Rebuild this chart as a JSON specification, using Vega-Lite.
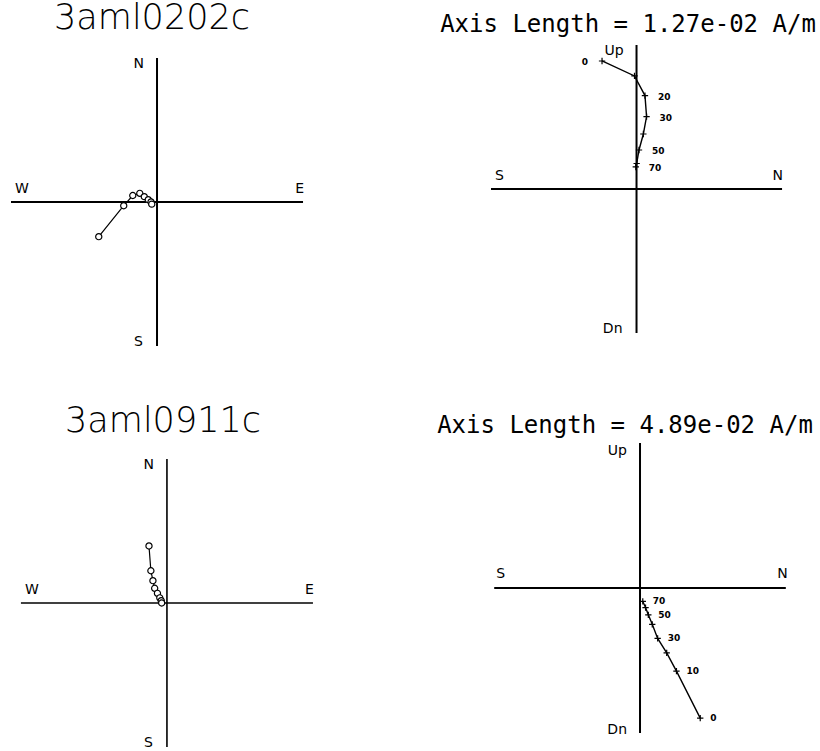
{
  "$schema": "https://vega.github.io/schema/vega-lite/v6.json",
  "background": "white",
  "padding": {"left": 10, "top": 1, "right": 0, "bottom": 0},
  "config": {"view": {"stroke": null}, "font": "DejaVu Sans"},
  "bounds": "flush",
  "columns": 2,
  "spacing": {"row": 94, "column": 176},
  "datasets": {
    "eqAxes": [
      {"axis": "NS", "east": 0, "east2": 0, "north": -1, "north2": 1},
      {"axis": "EW", "east": -1, "east2": 1, "north": 0, "north2": 0}
    ],
    "eqLabels": [
      {"label": "N", "end": "top", "east": 0, "north": 1},
      {"label": "S", "end": "bottom", "east": 0, "north": -1},
      {"label": "W", "end": "left", "east": -1, "north": 0},
      {"label": "E", "end": "right", "east": 1, "north": 0}
    ],
    "zijAxes": [
      {"axis": "UpDn", "north": 0, "north2": 0, "up": -1, "up2": 1},
      {"axis": "SN", "north": -1, "north2": 1, "up": 0, "up2": 0}
    ],
    "zijLabels": [
      {"label": "Up", "end": "top", "north": 0, "up": 1},
      {"label": "Dn", "end": "bottom", "north": 0, "up": -1},
      {"label": "S", "end": "left", "north": -1, "up": 0},
      {"label": "N", "end": "right", "north": 1, "up": 0}
    ],
    "eq0202": [
      {"step": 0, "east": -0.399, "north": -0.241},
      {"step": 10, "east": -0.228, "north": -0.026},
      {"step": 20, "east": -0.166, "north": 0.045},
      {"step": 30, "east": -0.118, "north": 0.060},
      {"step": 40, "east": -0.087, "north": 0.037},
      {"step": 50, "east": -0.060, "north": 0.016},
      {"step": 60, "east": -0.041, "north": 0.000},
      {"step": 70, "east": -0.036, "north": -0.015}
    ],
    "zij0202": [
      {"step": 0, "north": -0.237, "up": 0.889},
      {"step": 10, "north": -0.014, "up": 0.785},
      {"step": 20, "north": 0.058, "up": 0.649},
      {"step": 30, "north": 0.069, "up": 0.503},
      {"step": 40, "north": 0.047, "up": 0.382},
      {"step": 50, "north": 0.017, "up": 0.271},
      {"step": 60, "north": 0.001, "up": 0.177},
      {"step": 70, "north": -0.005, "up": 0.153}
    ],
    "eq0911": [
      {"step": 0, "east": -0.123, "north": 0.396},
      {"step": 10, "east": -0.110, "north": 0.224},
      {"step": 20, "east": -0.096, "north": 0.155},
      {"step": 30, "east": -0.084, "north": 0.102},
      {"step": 40, "east": -0.065, "north": 0.067},
      {"step": 50, "east": -0.049, "north": 0.036},
      {"step": 60, "east": -0.039, "north": 0.016},
      {"step": 70, "east": -0.036, "north": 0.000}
    ],
    "zij0911": [
      {"step": 0, "north": 0.413, "up": -0.898},
      {"step": 10, "north": 0.250, "up": -0.574},
      {"step": 20, "north": 0.183, "up": -0.448},
      {"step": 30, "north": 0.121, "up": -0.348},
      {"step": 40, "north": 0.084, "up": -0.251},
      {"step": 50, "north": 0.057, "up": -0.185},
      {"step": 60, "north": 0.038, "up": -0.135},
      {"step": 70, "north": 0.019, "up": -0.093}
    ]
  },
  "concat": [
    {
      "width": 304, "height": 304,
      "title": {"text": "3aml0202c", "font": "DejaVu Sans", "fontSize": 35, "fontWeight": 200, "color": "black", "anchor": "middle", "baseline": "alphabetic", "offset": -19, "dx": -11},
      "encoding": {
        "x": {"field": "east", "type": "quantitative", "scale": {"domain": [-1, 1.082], "nice": false, "zero": false}, "axis": null},
        "y": {"field": "north", "type": "quantitative", "scale": {"domain": [-1.021, 1.09], "nice": false, "zero": false}, "axis": null}
      },
      "layer": [
        {"data": {"name": "eqAxes"}, "mark": {"type": "rule", "color": "black", "strokeWidth": 2}, "encoding": {"x2": {"field": "east2"}, "y2": {"field": "north2"}}},
        {"data": {"name": "eqLabels"}, "transform": [{"filter": "datum.end == 'top'"}], "mark": {"type": "text", "fontSize": 14, "color": "black", "align": "right", "baseline": "alphabetic", "dx": -13, "dy": 10}, "encoding": {"text": {"field": "label"}}},
        {"data": {"name": "eqLabels"}, "transform": [{"filter": "datum.end == 'bottom'"}], "mark": {"type": "text", "fontSize": 14, "color": "black", "align": "right", "baseline": "alphabetic", "dx": -14, "dy": 0}, "encoding": {"text": {"field": "label"}}},
        {"data": {"name": "eqLabels"}, "transform": [{"filter": "datum.end == 'left'"}], "mark": {"type": "text", "fontSize": 14, "color": "black", "align": "left", "baseline": "alphabetic", "dx": 4, "dy": -9}, "encoding": {"text": {"field": "label"}}},
        {"data": {"name": "eqLabels"}, "transform": [{"filter": "datum.end == 'right'"}], "mark": {"type": "text", "fontSize": 14, "color": "black", "align": "right", "baseline": "alphabetic", "dx": 1, "dy": -9}, "encoding": {"text": {"field": "label"}}},
        {"data": {"name": "eq0202"}, "mark": {"type": "line", "color": "black", "strokeWidth": 1.2}, "encoding": {"order": {"field": "step", "type": "quantitative"}}},
        {"data": {"name": "eq0202"}, "mark": {"type": "point", "shape": "circle", "size": 38, "filled": false, "fill": "white", "fillOpacity": 1, "stroke": "black", "strokeWidth": 1.2, "opacity": 1}}
      ]
    },
    {
      "width": 304, "height": 304,
      "title": {"text": "Axis Length = 1.27e-02 A/m", "font": "DejaVu Sans Mono", "fontSize": 24, "fontWeight": "normal", "color": "black", "anchor": "middle", "baseline": "alphabetic", "offset": -12, "dx": -15},
      "encoding": {
        "x": {"field": "north", "type": "quantitative", "scale": {"domain": [-1, 1.089], "nice": false, "zero": false}, "axis": null},
        "y": {"field": "up", "type": "quantitative", "scale": {"domain": [-1.111, 1.0], "nice": false, "zero": false}, "axis": null}
      },
      "layer": [
        {"data": {"name": "zijAxes"}, "mark": {"type": "rule", "color": "black", "strokeWidth": 2}, "encoding": {"x2": {"field": "north2"}, "y2": {"field": "up2"}}},
        {"data": {"name": "zijLabels"}, "transform": [{"filter": "datum.end == 'top'"}], "mark": {"type": "text", "fontSize": 14, "color": "black", "align": "right", "baseline": "alphabetic", "dx": -13, "dy": 10}, "encoding": {"text": {"field": "label"}}},
        {"data": {"name": "zijLabels"}, "transform": [{"filter": "datum.end == 'bottom'"}], "mark": {"type": "text", "fontSize": 14, "color": "black", "align": "right", "baseline": "alphabetic", "dx": -14, "dy": 0}, "encoding": {"text": {"field": "label"}}},
        {"data": {"name": "zijLabels"}, "transform": [{"filter": "datum.end == 'left'"}], "mark": {"type": "text", "fontSize": 14, "color": "black", "align": "left", "baseline": "alphabetic", "dx": 4, "dy": -9}, "encoding": {"text": {"field": "label"}}},
        {"data": {"name": "zijLabels"}, "transform": [{"filter": "datum.end == 'right'"}], "mark": {"type": "text", "fontSize": 14, "color": "black", "align": "right", "baseline": "alphabetic", "dx": 1, "dy": -9}, "encoding": {"text": {"field": "label"}}},
        {"data": {"name": "zij0202"}, "mark": {"type": "line", "color": "black", "strokeWidth": 1.4}, "encoding": {"order": {"field": "step", "type": "quantitative"}}},
        {"data": {"name": "zij0202"}, "mark": {"type": "point", "shape": "M-1,0H1M0,-1V1", "size": 40, "filled": false, "stroke": "black", "strokeWidth": 1.2, "opacity": 1}},
        {"data": {"name": "zij0202"}, "transform": [{"filter": "indexof([20, 30, 50, 70], datum.step) >= 0"}], "mark": {"type": "text", "fontSize": 9, "fontWeight": "bold", "color": "black", "align": "left", "baseline": "middle", "dx": 13, "dy": 1}, "encoding": {"text": {"field": "step", "type": "nominal"}}},
        {"data": {"name": "zij0202"}, "transform": [{"filter": "datum.step == 0"}], "mark": {"type": "text", "fontSize": 9, "fontWeight": "bold", "color": "black", "align": "right", "baseline": "middle", "dx": -14, "dy": 1}, "encoding": {"text": {"field": "step", "type": "nominal"}}}
      ]
    },
    {
      "width": 304, "height": 304,
      "title": {"text": "3aml0911c", "font": "DejaVu Sans", "fontSize": 35, "fontWeight": 200, "color": "black", "anchor": "middle", "baseline": "alphabetic", "offset": -24, "dx": 0},
      "encoding": {
        "x": {"field": "east", "type": "quantitative", "scale": {"domain": [-1.068, 1.014], "nice": false, "zero": false}, "axis": null},
        "y": {"field": "north", "type": "quantitative", "scale": {"domain": [-1.0, 1.111], "nice": false, "zero": false}, "axis": null}
      },
      "layer": [
        {"data": {"name": "eqAxes"}, "mark": {"type": "rule", "color": "black", "strokeWidth": 1.6}, "encoding": {"x2": {"field": "east2"}, "y2": {"field": "north2"}}},
        {"data": {"name": "eqLabels"}, "transform": [{"filter": "datum.end == 'top'"}], "mark": {"type": "text", "fontSize": 14, "color": "black", "align": "right", "baseline": "alphabetic", "dx": -13, "dy": 10}, "encoding": {"text": {"field": "label"}}},
        {"data": {"name": "eqLabels"}, "transform": [{"filter": "datum.end == 'bottom'"}], "mark": {"type": "text", "fontSize": 14, "color": "black", "align": "right", "baseline": "alphabetic", "dx": -14, "dy": 0}, "encoding": {"text": {"field": "label"}}},
        {"data": {"name": "eqLabels"}, "transform": [{"filter": "datum.end == 'left'"}], "mark": {"type": "text", "fontSize": 14, "color": "black", "align": "left", "baseline": "alphabetic", "dx": 4, "dy": -9}, "encoding": {"text": {"field": "label"}}},
        {"data": {"name": "eqLabels"}, "transform": [{"filter": "datum.end == 'right'"}], "mark": {"type": "text", "fontSize": 14, "color": "black", "align": "right", "baseline": "alphabetic", "dx": 1, "dy": -9}, "encoding": {"text": {"field": "label"}}},
        {"data": {"name": "eq0911"}, "mark": {"type": "line", "color": "black", "strokeWidth": 1.2}, "encoding": {"order": {"field": "step", "type": "quantitative"}}},
        {"data": {"name": "eq0911"}, "mark": {"type": "point", "shape": "circle", "size": 38, "filled": false, "fill": "white", "fillOpacity": 1, "stroke": "black", "strokeWidth": 1.2, "opacity": 1}}
      ]
    },
    {
      "width": 304, "height": 304,
      "title": {"text": "Axis Length = 4.89e-02 A/m", "font": "DejaVu Sans Mono", "fontSize": 24, "fontWeight": "normal", "color": "black", "anchor": "middle", "baseline": "alphabetic", "offset": -15, "dx": -18},
      "encoding": {
        "x": {"field": "north", "type": "quantitative", "scale": {"domain": [-1.022, 1.063], "nice": false, "zero": false}, "axis": null},
        "y": {"field": "up", "type": "quantitative", "scale": {"domain": [-1.097, 1.0], "nice": false, "zero": false}, "axis": null}
      },
      "layer": [
        {"data": {"name": "zijAxes"}, "mark": {"type": "rule", "color": "black", "strokeWidth": 2}, "encoding": {"x2": {"field": "north2"}, "y2": {"field": "up2"}}},
        {"data": {"name": "zijLabels"}, "transform": [{"filter": "datum.end == 'top'"}], "mark": {"type": "text", "fontSize": 14, "color": "black", "align": "right", "baseline": "alphabetic", "dx": -13, "dy": 12}, "encoding": {"text": {"field": "label"}}},
        {"data": {"name": "zijLabels"}, "transform": [{"filter": "datum.end == 'bottom'"}], "mark": {"type": "text", "fontSize": 14, "color": "black", "align": "right", "baseline": "alphabetic", "dx": -13, "dy": 1}, "encoding": {"text": {"field": "label"}}},
        {"data": {"name": "zijLabels"}, "transform": [{"filter": "datum.end == 'left'"}], "mark": {"type": "text", "fontSize": 14, "color": "black", "align": "left", "baseline": "alphabetic", "dx": 2, "dy": -10}, "encoding": {"text": {"field": "label"}}},
        {"data": {"name": "zijLabels"}, "transform": [{"filter": "datum.end == 'right'"}], "mark": {"type": "text", "fontSize": 14, "color": "black", "align": "right", "baseline": "alphabetic", "dx": 2, "dy": -10}, "encoding": {"text": {"field": "label"}}},
        {"data": {"name": "zij0911"}, "mark": {"type": "line", "color": "black", "strokeWidth": 1.4}, "encoding": {"order": {"field": "step", "type": "quantitative"}}},
        {"data": {"name": "zij0911"}, "mark": {"type": "point", "shape": "M-1,0H1M0,-1V1", "size": 40, "filled": false, "stroke": "black", "strokeWidth": 1.2, "opacity": 1}},
        {"data": {"name": "zij0911"}, "transform": [{"filter": "indexof([0, 10, 30, 50, 70], datum.step) >= 0"}], "mark": {"type": "text", "fontSize": 9, "fontWeight": "bold", "color": "black", "align": "left", "baseline": "middle", "dx": 10, "dy": 0}, "encoding": {"text": {"field": "step", "type": "nominal"}}}
      ]
    }
  ]
}
